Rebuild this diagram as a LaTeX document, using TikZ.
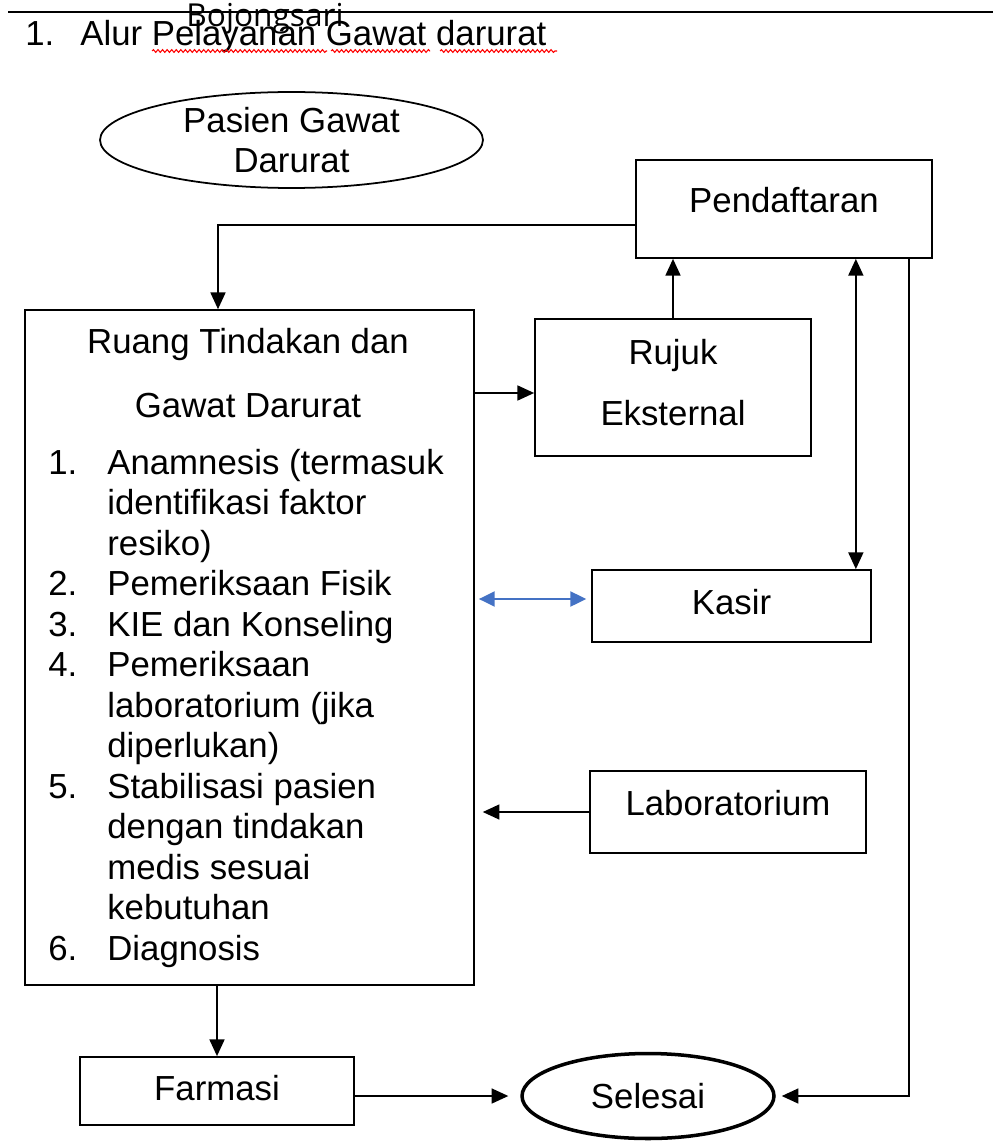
\documentclass[tikz,border=0pt]{standalone}
\usepackage{fontspec}
\setmainfont{Liberation Sans}
\newfontfamily\placefont{Open Sans}
\usetikzlibrary{shapes.geometric, arrows.meta, calc, positioning, decorations.pathmorphing}
\definecolor{arrowblue}{RGB}{68,114,196}

\begin{document}
\begin{tikzpicture}[x=0.02cm, y=-0.02cm,
    every node/.style={font=\fontsize{19.8}{22.8}\selectfont, inner sep=0pt},
    box/.style={draw, line width=1pt},
    arr/.style={line width=1pt, -{Triangle[length=9.5pt,width=8.5pt]}},
    darr/.style={line width=1pt, {Triangle[length=9.5pt,width=8.5pt]}-{Triangle[length=9.5pt,width=8.5pt]}},
    barr/.style={arrowblue, line width=1.2pt, {Triangle[length=9pt,width=8.5pt]}-{Triangle[length=9pt,width=8.5pt]}},
    squiggle/.style={red, line width=0.6pt, decorate, decoration={snake, amplitude=0.8pt, segment length=2.6pt}}]
    \useasboundingbox (0,0) rectangle (993,1142);

    % heading
    \draw[line width=1.5pt] (8,12) -- (993,12);
    \node[anchor=base west] (titlenum) at (25,46) {1.};
    \node[anchor=base west] (title) at (80,46) {Alur Pelayanan Gawat darurat};
    \draw[squiggle] (152,51) -- (327,51);
    \draw[squiggle] (331,51) -- (430,51);
    \draw[squiggle] (440,51) -- (557,51);
    \node[anchor=base, font=\placefont\fontsize{18}{18}\selectfont] (place) at (265,27) {Bojongsari};

    % boxes
    \node[ellipse, draw, line width=1pt, minimum width=7.66cm, minimum height=1.92cm, align=center] (pasien) at (291.5,140) {Pasien Gawat\\Darurat};
    \node[box, minimum width=5.92cm, minimum height=1.96cm, text depth=10pt] (daftar) at (784,209) {Pendaftaran};
    \node[box, minimum width=8.98cm, minimum height=13.5cm] (ruang) at (249.5,647.5) {};
    \node[anchor=base] (ruanghead) at (248,353) {Ruang Tindakan dan};
    \node[anchor=base] (ruangsub) at (248,417) {Gawat Darurat};
    \foreach \i/\num/\txt in {0/1./Anamnesis (termasuk, 1//identifikasi faktor, 2//resiko),
        3/2./Pemeriksaan Fisik, 4/3./KIE dan Konseling, 5/4./Pemeriksaan,
        6//laboratorium (jika, 7//diperlukan), 8/5./Stabilisasi pasien,
        9//dengan tindakan, 10//medis sesuai, 11//kebutuhan, 12/6./Diagnosis}{
        \node[anchor=base west] (num\i) at (48,474+40.5*\i) {\num};
        \node[anchor=base west] (item\i) at (107,474+40.5*\i) {\txt};
    }
    \node[box, minimum width=5.52cm, minimum height=2.74cm, align=center, text depth=5.6pt, font=\fontsize{19.8}{35}\selectfont] (rujuk) at (673,387.5) {Rujuk\\Eksternal};
    \node[box, minimum width=5.58cm, minimum height=1.44cm, text depth=4.6pt] (kasir) at (731.5,606) {Kasir};
    \node[box, minimum width=5.52cm, minimum height=1.64cm, text depth=10pt] (lab) at (728,812) {Laboratorium};
    \node[box, minimum width=5.48cm, minimum height=1.36cm, text depth=3.4pt] (farmasi) at (217,1091) {Farmasi};
    \node[ellipse, draw, line width=2pt, minimum width=5.04cm, minimum height=1.7cm] (selesai) at (648,1096) {Selesai};

    % arrows
    \coordinate (daftarout) at ($(daftar.west)+(0,16)$);
    \coordinate (ruangin) at ($(ruang.north)+(-31.5,0)$);
    \draw[arr] (daftarout) -| (ruangin);
    \coordinate (rujukin) at ($(rujuk.west)+(0,5.5)$);
    \draw[arr] (ruang.east |- rujukin) -- (rujukin);
    \draw[arr] (rujuk.north) -- (rujuk.north |- daftar.south);
    \coordinate (kasirtop) at ($(kasir.north east)+(-16,0)$);
    \draw[darr] (kasirtop) -- (kasirtop |- daftar.south);
    \coordinate (kasirin) at ($(kasir.west)+(0,-7)$);
    \draw[barr, shorten <=2.3pt, shorten >=2.8pt] (ruang.east |- kasirin) -- (kasirin);
    \draw[arr, shorten >=4.5pt] (lab.west) -- (ruang.east |- lab.west);
    \draw[arr] (ruang.south -| farmasi.north) -- (farmasi.north);
    \draw[arr, shorten >=6.8pt] (farmasi.east |- selesai.west) -- (selesai.west);
    \coordinate (daftarend) at ($(daftar.south east)+(-24,0)$);
    \draw[arr, shorten >=3.4pt] (daftarend) |- (selesai.east);
\end{tikzpicture}
\end{document}
